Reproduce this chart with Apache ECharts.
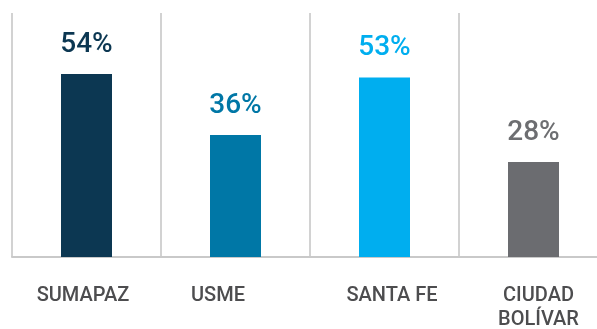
<!DOCTYPE html>
<html>
<head>
<meta charset="utf-8">
<script src="https://cdn.jsdelivr.net/npm/echarts@6/dist/echarts.min.js"></script>
<style>
  html, body { margin: 0; padding: 0; background: #ffffff; }
  #chart { width: 597px; height: 329px; }
</style>
</head>
<body>
<div id="chart"></div>
<script>
// Localidades and their share (%)
const categories = ['SUMAPAZ', 'USME', 'SANTA FE', 'CIUDAD\nBOLÍVAR'];
const values = [54, 36, 53, 28];
const barColors = ['#0c3752', '#0077a6', '#00aeef', '#6b6c70'];
const labelColors = ['#0c3752', '#0077a6', '#00aeef', '#6d6e71'];
// small horizontal nudges of the category names [left, right] padding
const namePads = [[0, 7], [0, 35], [15, 0], [10, 0]];

const chart = echarts.init(document.getElementById('chart'), null, { renderer: 'canvas' });

chart.setOption({
  animation: false,
  backgroundColor: '#ffffff',
  grid: {
    left: 12, right: -11, top: 13, bottom: 72,
    containLabel: false, outerBoundsMode: 'none'
  },
  xAxis: {
    type: 'category',
    boundaryGap: true,
    data: categories.map((c, i) => ({
      value: c,
      textStyle: { padding: [0, namePads[i][1], 0, namePads[i][0]] }
    })),
    axisLine: { show: true, lineStyle: { color: '#c9c9c9', width: 2 } },
    axisTick: { show: false },
    splitLine: { show: true, lineStyle: { color: '#d2d2d2', width: 2 } },
    axisLabel: {
      interval: 0,
      margin: 27,
      color: '#4d4d4f',
      fontFamily: 'Roboto',
      fontWeight: 500,
      fontSize: 20,
      lineHeight: 24
    }
  },
  yAxis: {
    type: 'value',
    min: 0, max: 72,
    show: false,
    splitLine: { show: false }
  },
  series: [{
    type: 'bar',
    barWidth: 51,
    data: values.map((v, i) => ({
      value: v,
      itemStyle: { color: barColors[i] },
      label: { color: labelColors[i] }
    })),
    label: {
      show: true,
      position: 'top',
      distance: 15,
      formatter: '{c}%',
      fontFamily: 'Roboto',
      fontWeight: 500,
      fontSize: 28
    }
  }]
});
</script>
</body>
</html>
